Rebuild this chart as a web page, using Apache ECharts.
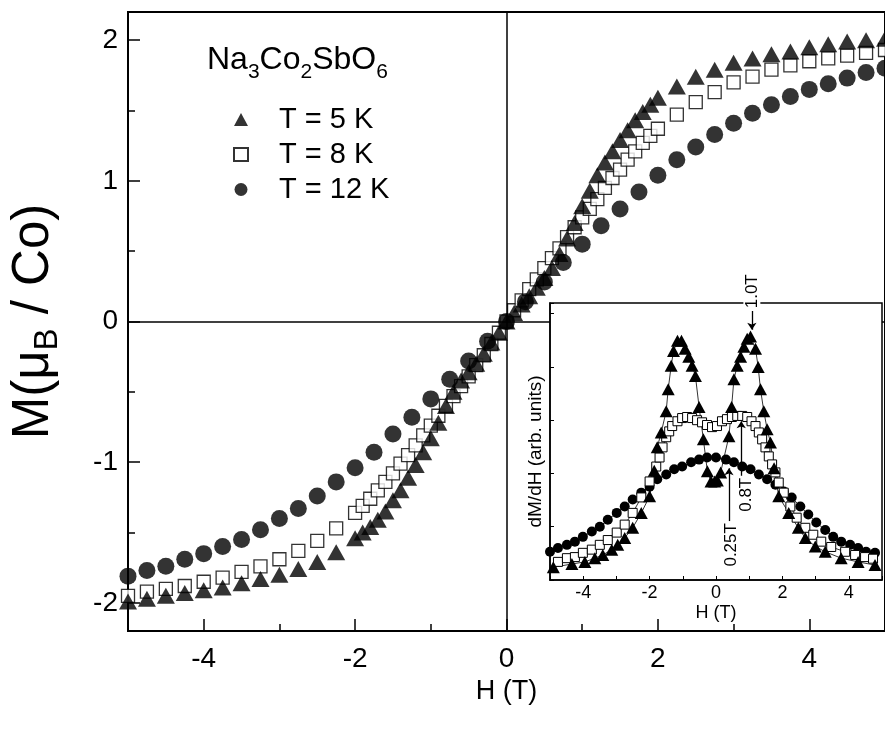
<!DOCTYPE html>
<html>
<head>
<meta charset="utf-8">
<script src="https://cdn.jsdelivr.net/npm/echarts@6/dist/echarts.min.js"></script>
<style>
html,body{margin:0;padding:0;background:#fff}
#chart{width:885px;height:733px}
</style>
</head>
<body>
<div id="chart"></div>
<script>
// main panel: H (T) and M (muB / Co)
const fieldFine = [-5,-4.75,-4.5,-4.25,-4,-3.75,-3.5,-3.25,-3,-2.75,-2.5,-2.25,-2,
  -1.9,-1.8,-1.7,-1.6,-1.5,-1.4,-1.3,-1.2,-1.1,-1,-0.9,-0.8,-0.7,-0.6,-0.5,-0.4,-0.3,-0.2,-0.1,
  0,0.1,0.2,0.3,0.4,0.5,0.6,0.7,0.8,0.9,1,1.1,1.2,1.3,1.4,1.5,1.6,1.7,1.8,1.9,
  2,2.25,2.5,2.75,3,3.25,3.5,3.75,4,4.25,4.5,4.75,5]
const m5K = [-1.99,-1.97,-1.95,-1.93,-1.91,-1.89,-1.86,-1.83,-1.80,-1.76,-1.71,-1.64,-1.54,
  -1.50,-1.46,-1.41,-1.35,-1.27,-1.20,-1.11,-1.02,-0.93,-0.83,-0.72,-0.60,-0.50,-0.42,-0.36,-0.30,-0.23,-0.15,-0.08,
  0.00,0.06,0.12,0.18,0.24,0.31,0.38,0.48,0.59,0.70,0.82,0.93,1.04,1.13,1.21,1.29,1.36,1.43,1.49,1.54,
  1.59,1.67,1.74,1.79,1.84,1.87,1.90,1.92,1.95,1.97,1.99,2.00,2.01]
const m8K = [-1.95,-1.92,-1.90,-1.88,-1.85,-1.82,-1.78,-1.74,-1.69,-1.63,-1.56,-1.47,-1.36,
  -1.31,-1.26,-1.20,-1.14,-1.08,-1.01,-0.95,-0.88,-0.81,-0.74,-0.67,-0.60,-0.53,-0.46,-0.39,-0.31,-0.24,-0.16,-0.08,
  0.00,0.08,0.15,0.23,0.30,0.38,0.45,0.52,0.60,0.67,0.74,0.80,0.87,0.95,1.02,1.08,1.15,1.21,1.27,1.32,
  1.37,1.47,1.56,1.63,1.70,1.74,1.79,1.82,1.85,1.87,1.89,1.91,1.93]
const field12 = [-5,-4.75,-4.5,-4.25,-4,-3.75,-3.5,-3.25,-3,-2.75,-2.5,-2.25,-2,-1.75,-1.5,-1.25,-1,-0.75,-0.5,-0.25,
  0,0.25,0.5,0.75,1,1.25,1.5,1.75,2,2.25,2.5,2.75,3,3.25,3.5,3.75,4,4.25,4.5,4.75,5]
const m12K = [-1.81,-1.77,-1.74,-1.69,-1.65,-1.60,-1.55,-1.48,-1.40,-1.33,-1.24,-1.14,-1.04,-0.93,-0.80,-0.68,-0.55,-0.41,-0.28,-0.14,
  0.00,0.14,0.28,0.42,0.55,0.68,0.80,0.92,1.04,1.15,1.24,1.33,1.41,1.48,1.54,1.60,1.65,1.69,1.73,1.77,1.80]

// inset: dM/dH (arb. units)
const insetH5 = [-4.9,-4.34,-3.95,-3.65,-3.41,-3.14,-2.96,-2.75,-2.51,-2.25,-2.0,-1.86,-1.77,-1.65,-1.5,-1.44,-1.35,-1.28,-1.16,-1.04,
  -0.93,-0.82,-0.72,-0.62,-0.51,-0.38,-0.26,-0.15,-0.04,0.04,0.14,0.39,0.47,0.54,0.64,0.74,0.84,0.94,1.04,1.19,
  1.27,1.34,1.44,1.54,1.64,1.75,1.89,2.19,2.48,2.69,2.99,3.29,3.77,4.28,4.79]
const insetD5 = [0.24,0.30,0.34,0.41,0.47,0.57,0.66,0.79,0.98,1.26,1.57,2.05,2.49,2.77,3.17,3.58,4.02,4.30,4.49,4.49,
  4.34,4.19,4.02,3.83,3.25,2.64,2.04,1.85,1.85,1.87,2.02,2.70,3.25,3.77,4.02,4.19,4.38,4.53,4.57,4.34,
  4.00,3.58,3.17,2.83,2.58,2.10,1.57,1.26,0.98,0.79,0.63,0.53,0.41,0.34,0.28]
const insetH8 = [-4.76,-4.49,-4.25,-4.01,-3.74,-3.5,-3.26,-2.99,-2.75,-2.51,-2.25,-2.0,-1.8,-1.7,-1.61,-1.5,-1.41,-1.32,-1.16,-1.02,
  -0.87,-0.72,-0.57,-0.42,-0.27,-0.12,0.03,0.18,0.33,0.48,0.64,0.79,0.94,1.07,1.19,1.29,1.39,1.49,1.59,1.69,
  1.79,1.89,2.04,2.24,2.43,2.69,2.93,3.17,3.47,3.89,4.19,4.49,4.73]
const insetD8 = [0.34,0.41,0.43,0.51,0.57,0.66,0.75,0.89,1.04,1.26,1.55,1.85,2.13,2.30,2.49,2.68,2.79,2.89,2.98,3.04,
  3.06,3.04,3.00,2.96,2.91,2.87,2.89,2.98,3.02,3.06,3.08,3.08,3.06,2.98,2.89,2.77,2.64,2.49,2.32,2.17,
  2.02,1.83,1.64,1.38,1.17,0.98,0.85,0.72,0.62,0.53,0.47,0.43,0.40]
const insetH12 = [-5,-4.76,-4.49,-4.25,-4.01,-3.74,-3.5,-3.26,-2.99,-2.75,-2.51,-2.25,-2.0,-1.77,-1.5,-1.26,-1.02,-0.75,-0.51,-0.27,
  0,0.3,0.54,0.79,1.04,1.29,1.54,1.79,2.04,2.28,2.54,2.78,3.02,3.29,3.53,3.77,4.04,4.28,4.52,4.79]
const insetD12 = [0.53,0.60,0.66,0.72,0.81,0.91,1.00,1.13,1.26,1.38,1.51,1.64,1.75,1.89,1.98,2.08,2.13,2.21,2.26,2.30,
  2.30,2.26,2.21,2.13,2.08,1.98,1.89,1.79,1.66,1.55,1.38,1.23,1.08,0.94,0.81,0.72,0.66,0.60,0.53,0.51]

const seriesNames = ['T = 5 K', 'T = 8 K', 'T = 12 K']
const mainXMajor = [-4, -2, 0, 2, 4]
const mainXMinor = [-3, -1, 1, 3]
const mainYMajor = [-2, -1, 0, 1, 2]
const mainYMinor = [-1.5, -0.5, 0.5, 1.5]
// field markers in the inset: [label, arrow H, arrow from, arrow to, text H, text v]
const insetMarks = [
  ['1.0T', 1.08, 5.05, 4.7, 1.08, 5.42],
  ['0.8T', 0.76, 1.92, 2.98, 0.9, 1.6],
  ['0.25T', 0.39, 1.1, 2.1, 0.46, 0.66]
]

const FONT = 'Liberation Sans, Arial, sans-serif'
const pairs = (xs, ys) => xs.map((x, i) => [x, ys[i]])
const BLACK = '#000'

// one helper for the extra tick-only axes
function tickAxis(kind, grid, min, max, values, len) {
  return {
    gridIndex: grid, type: 'value', min: min, max: max,
    position: kind === 'x' ? 'bottom' : 'left',
    axisLine: {show: false, onZero: false},
    axisTick: {show: true, inside: true, length: len, customValues: values, lineStyle: {color: BLACK, width: 1.5}},
    axisLabel: {show: false}, splitLine: {show: false}
  }
}

const chart = echarts.init(document.getElementById('chart'), null, {renderer: 'canvas'})

const option = {
  animation: false,
  backgroundColor: '#fff',
  textStyle: {fontFamily: FONT, color: BLACK},
  title: {
    text: 'Na{s|3}Co{s|2}SbO{s|6}',
    left: 202, top: 32,
    textStyle: {
      fontFamily: FONT, fontSize: 32, fontWeight: 'normal', color: BLACK,
      rich: {s: {fontFamily: FONT, fontSize: 21, color: BLACK, padding: [25, 0, 0, 0]}}
    }
  },
  legend: {
    data: seriesNames,
    orient: 'vertical',
    left: 228, top: 100,
    itemGap: 6,
    itemWidth: 14, itemHeight: 13,
    textStyle: {fontFamily: FONT, fontSize: 29, color: BLACK, padding: [0, 0, 0, 26]}
  },
  grid: [
    {left: 127, top: 12, width: 762, height: 619, show: true, borderColor: BLACK, borderWidth: 2, backgroundColor: 'transparent'},
    {left: 550, top: 303, width: 334, height: 277, show: false}
  ],
  xAxis: [
    {
      gridIndex: 0, type: 'value', min: -5, max: 5,
      axisLine: {show: true, onZero: false, lineStyle: {color: BLACK, width: 2}},
      axisTick: {show: false},
      axisLabel: {customValues: mainXMajor, fontFamily: FONT, fontSize: 28, color: BLACK, margin: 14},
      splitLine: {show: false},
      name: 'H (T)', nameLocation: 'middle', nameGap: 44,
      nameTextStyle: {fontFamily: FONT, fontSize: 27, color: BLACK}
    },
    tickAxis('x', 0, -5, 5, mainXMajor, 12),
    tickAxis('x', 0, -5, 5, mainXMinor, 7),
    {
      gridIndex: 1, type: 'value', min: -5, max: 5, interval: 1, z: 10,
      axisLine: {show: true, onZero: false, lineStyle: {color: BLACK, width: 1.5}},
      axisTick: {show: true, inside: true, length: 4, lineStyle: {color: BLACK, width: 1}},
      axisLabel: {fontFamily: FONT, fontSize: 18, color: BLACK, margin: 4,
        formatter: v => (v % 2 === 0 ? String(v) : '')},
      splitLine: {show: false},
      name: 'H (T)', nameLocation: 'middle', nameGap: 24,
      nameTextStyle: {fontFamily: FONT, fontSize: 18, color: BLACK}
    }
  ],
  yAxis: [
    {
      gridIndex: 0, type: 'value', min: -2.2, max: 2.2,
      axisLine: {show: true, onZero: false, lineStyle: {color: BLACK, width: 2}},
      axisTick: {show: false},
      axisLabel: {customValues: mainYMajor, fontFamily: FONT, fontSize: 28, color: BLACK, margin: 10},
      splitLine: {show: false},
      name: 'M(μ{s|B} / Co)', nameLocation: 'middle', nameGap: 64,
      nameTextStyle: {fontFamily: FONT, fontSize: 51, color: BLACK,
        rich: {s: {fontFamily: FONT, fontSize: 33, color: BLACK, padding: [28, 0, 0, 0]}}}
    },
    tickAxis('y', 0, -2.2, 2.2, mainYMajor, 12),
    tickAxis('y', 0, -2.2, 2.2, mainYMinor, 7),
    {
      gridIndex: 1, type: 'value', min: 0, max: 5.2, interval: 1, z: 10,
      axisLine: {show: true, onZero: false, lineStyle: {color: BLACK, width: 1.5}},
      axisTick: {show: true, inside: true, length: 4, lineStyle: {color: BLACK, width: 1}},
      axisLabel: {show: false},
      splitLine: {show: false},
      name: 'dM/dH (arb. units)', nameLocation: 'middle', nameGap: 5,
      nameTextStyle: {fontFamily: FONT, fontSize: 19, color: BLACK, padding: [0, 20, 0, 0]}
    }
  ],
  series: [
    {
      name: 'T = 8 K', type: 'scatter', xAxisIndex: 0, yAxisIndex: 0,
      data: pairs(fieldFine, m8K),
      symbol: 'rect', symbolSize: 13,
      itemStyle: {color: '#fff', borderColor: BLACK, borderWidth: 1.3}
    },
    {
      name: 'T = 12 K', type: 'scatter', xAxisIndex: 0, yAxisIndex: 0,
      data: pairs(field12, m12K),
      symbol: 'circle', symbolSize: 17,
      itemStyle: {color: BLACK},
      markLine: {
        silent: true, symbol: 'none', label: {show: false},
        lineStyle: {color: BLACK, width: 1.5, type: 'solid'},
        data: [{xAxis: 0}, {yAxis: 0}]
      }
    },
    {
      name: 'T = 5 K', type: 'scatter', xAxisIndex: 0, yAxisIndex: 0,
      data: pairs(fieldFine, m5K),
      symbol: 'triangle', symbolSize: [18, 16],
      itemStyle: {color: BLACK}
    },
    {
      name: 'inset 12 K', type: 'line', xAxisIndex: 3, yAxisIndex: 3, z: 10,
      data: pairs(insetH12, insetD12),
      symbol: 'circle', symbolSize: 10, showAllSymbol: true,
      lineStyle: {color: BLACK, width: 0.8},
      itemStyle: {color: BLACK},
      markLine: {
        silent: true, symbol: 'none', label: {show: false},
        lineStyle: {color: BLACK, width: 1, type: 'solid'},
        data: [{xAxis: 0}]
      }
    },
    {
      name: 'inset 8 K', type: 'line', xAxisIndex: 3, yAxisIndex: 3, z: 10,
      data: pairs(insetH8, insetD8),
      symbol: 'rect', symbolSize: 9, showAllSymbol: true,
      lineStyle: {color: BLACK, width: 0.8},
      itemStyle: {color: '#fff', borderColor: BLACK, borderWidth: 1}
    },
    {
      name: 'inset 5 K', type: 'line', xAxisIndex: 3, yAxisIndex: 3, z: 10,
      data: pairs(insetH5, insetD5),
      symbol: 'triangle', symbolSize: [13, 12], showAllSymbol: true,
      lineStyle: {color: BLACK, width: 0.8},
      itemStyle: {color: BLACK}
    },
    {
      name: 'field arrows', type: 'lines', coordinateSystem: 'cartesian2d',
      xAxisIndex: 3, yAxisIndex: 3, z: 11, silent: true,
      symbol: ['none', 'arrow'], symbolSize: 7,
      lineStyle: {color: BLACK, width: 1.3, opacity: 1},
      data: insetMarks.map(m => ({coords: [[m[1], m[2]], [m[1], m[3]]]}))
    }
  ]
}
chart.setOption(option)

// white panel behind the inset and the rotated field labels
const toInset = p => chart.convertToPixel({xAxisIndex: 3, yAxisIndex: 3}, p)
const lt = toInset([-5, 5.2]), rb = toInset([5, 0])
const graphics = [{
  type: 'rect', z: 5,
  shape: {x: lt[0], y: lt[1], width: rb[0] - lt[0], height: rb[1] - lt[1]},
  style: {fill: '#fff', stroke: BLACK, lineWidth: 1.5}
}]
insetMarks.forEach(m => {
  const p = toInset([m[4], m[5]])
  graphics.push({
    type: 'text', z: 12, x: p[0], y: p[1], rotation: Math.PI / 2,
    style: {text: m[0], align: 'center', verticalAlign: 'middle',
      font: '17px ' + FONT, fill: BLACK, backgroundColor: '#fff', padding: [0, 2]}
  })
})
chart.setOption({graphic: graphics})
</script>
</body>
</html>
